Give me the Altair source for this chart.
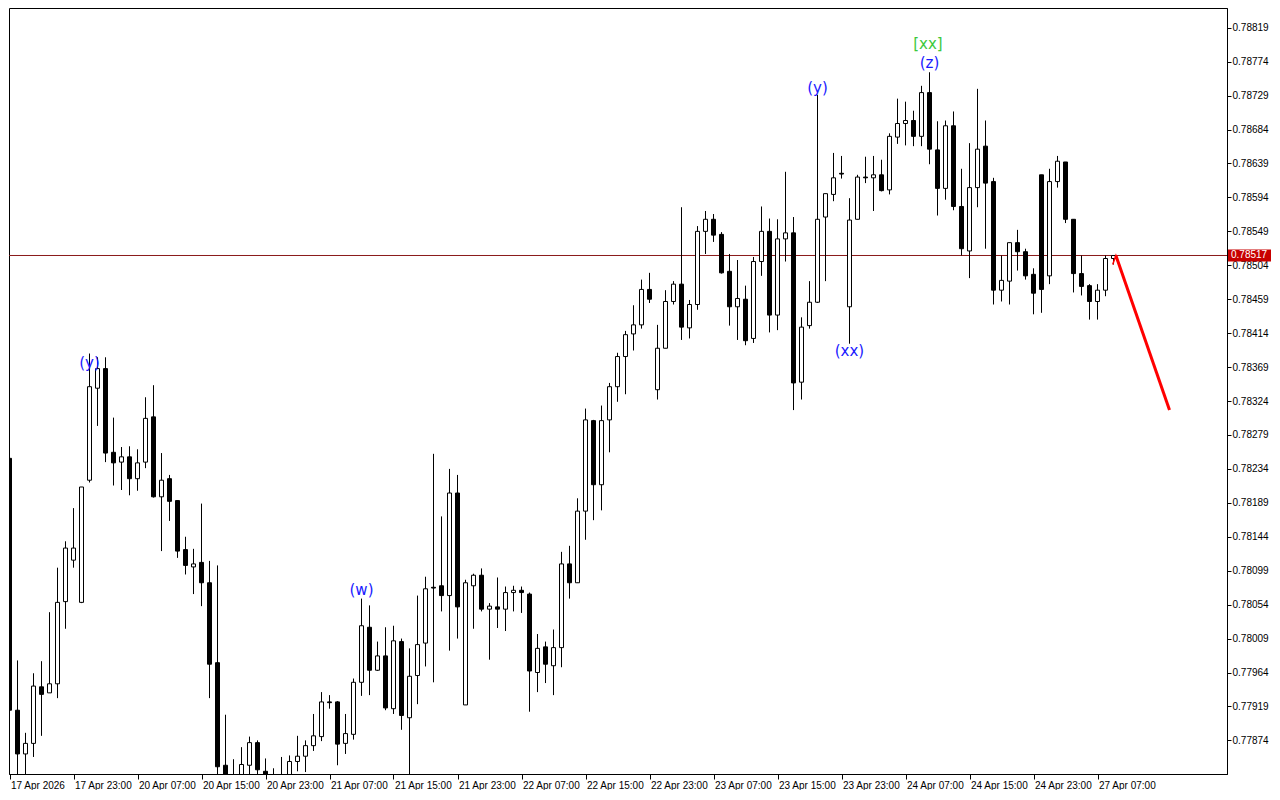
import altair as alt
import pandas as pd

# ---- hourly OHLC (17 Apr 15:00 .. 27 Apr 09:00) ----
opens = [0.78248,0.77914,0.77856,0.77870,0.77945,0.77937,0.77949,0.78058,0.78113,0.78057,
         0.78219,0.78341,0.78367,0.78256,0.78243,0.78250,0.78221,0.78243,0.78303,0.78197,
         0.78221,0.78192,0.78127,0.78104,0.78110,0.78083,0.77977,0.77841,0.77819,0.77814,
         0.77841,0.77871,0.77833,0.77819,0.77814,0.77816,0.77846,0.77853,0.77867,0.77879,
         0.77925,0.77925,0.77870,0.77882,0.77951,0.78024,0.77967,0.77986,0.77916,0.78005,
         0.77904,0.77960,0.78003,0.78077,0.78079,0.78066,0.78202,0.77921,0.78079,0.78093,
         0.78048,0.78051,0.78048,0.78070,0.78073,0.78068,0.77964,0.77998,0.77973,0.77997,
         0.78108,0.78083,0.78178,0.78298,0.78213,0.78299,0.78343,0.78383,0.78413,0.78425,
         0.78472,0.78339,0.78394,0.78456,0.78479,0.78421,0.78452,0.78549,0.78565,0.78545,
         0.78496,0.78449,0.78459,0.78407,0.78509,0.78549,0.78438,0.78539,0.78547,0.78349,
         0.78424,0.78455,0.78568,0.78598,0.78626,0.78449,0.78565,0.78621,0.78620,0.78624,
         0.78604,0.78674,0.78692,0.78696,0.78675,0.78733,0.78657,0.78606,0.78689,0.78582,
         0.78523,0.78607,0.78662,0.78615,0.78471,0.78483,0.78534,0.78522,0.78492,0.78624,
         0.78490,0.78615,0.78641,0.78565,0.78493,0.78477,0.78456,0.78471,0.78513]
highs = [0.78252,0.77980,0.77884,0.77963,0.77979,0.78044,0.78103,0.78138,0.78182,0.78210,
         0.78387,0.78382,0.78382,0.78302,0.78263,0.78264,0.78260,0.78329,0.78345,0.78255,
         0.78226,0.78192,0.78144,0.78128,0.78188,0.78112,0.78106,0.77908,0.77849,0.77865,
         0.77879,0.77874,0.77850,0.77837,0.77852,0.77854,0.77880,0.77874,0.77909,0.77938,
         0.77934,0.77926,0.77909,0.77956,0.78062,0.78053,0.78005,0.78024,0.78026,0.78009,
         0.77996,0.78066,0.78091,0.78254,0.78171,0.78234,0.78226,0.78087,0.78095,0.78102,
         0.78056,0.78090,0.78078,0.78079,0.78078,0.78070,0.78015,0.78005,0.78021,0.78124,
         0.78132,0.78195,0.78314,0.78299,0.78318,0.78348,0.78388,0.78417,0.78451,0.78485,
         0.78494,0.78425,0.78471,0.78483,0.78581,0.78458,0.78556,0.78576,0.78572,0.78548,
         0.78519,0.78511,0.78477,0.78515,0.78582,0.78566,0.78565,0.78628,0.78568,0.78435,
         0.78483,0.78730,0.78599,0.78653,0.78649,0.78593,0.78624,0.78648,0.78649,0.78644,
         0.78679,0.78725,0.78721,0.78709,0.78742,0.78760,0.78695,0.78696,0.78708,0.78632,
         0.78666,0.78738,0.78696,0.78620,0.78517,0.78534,0.78551,0.78526,0.78500,0.78624,
         0.78632,0.78649,0.78641,0.78565,0.78517,0.78479,0.78479,0.78517,0.78517]
lows = [0.77911,0.77814,0.77814,0.77852,0.77880,0.77937,0.77930,0.78022,0.78103,0.78056,
        0.78216,0.78291,0.78243,0.78212,0.78206,0.78199,0.78205,0.78235,0.78196,0.78125,
        0.78165,0.78116,0.78094,0.78068,0.78052,0.77930,0.77814,0.77807,0.77801,0.77807,
        0.77824,0.77820,0.77807,0.77801,0.77801,0.77811,0.77833,0.77832,0.77860,0.77873,
        0.77916,0.77841,0.77856,0.77875,0.77933,0.77934,0.77966,0.77914,0.77909,0.77888,
        0.77827,0.77922,0.77972,0.77951,0.78045,0.77993,0.78009,0.77921,0.78022,0.78045,
        0.77981,0.78023,0.78019,0.78045,0.78043,0.77912,0.77938,0.77950,0.77934,0.77971,
        0.78062,0.78083,0.78140,0.78166,0.78179,0.78256,0.78323,0.78333,0.78391,0.78420,
        0.78454,0.78326,0.78394,0.78452,0.78405,0.78407,0.78445,0.78519,0.78535,0.78493,
        0.78424,0.78405,0.78398,0.78401,0.78490,0.78415,0.78418,0.78509,0.78312,0.78326,
        0.78420,0.78454,0.78483,0.78589,0.78619,0.78400,0.78565,0.78613,0.78576,0.78602,
        0.78598,0.78665,0.78663,0.78662,0.78662,0.78638,0.78570,0.78591,0.78577,0.78517,
        0.78487,0.78581,0.78526,0.78452,0.78456,0.78452,0.78497,0.78485,0.78439,0.78441,
        0.78479,0.78607,0.78560,0.78468,0.78464,0.78432,0.78432,0.78463,0.78505]
closes = [0.77914,0.77856,0.77870,0.77946,0.77935,0.77949,0.78057,0.78129,0.78129,0.78210,
          0.78343,0.78367,0.78255,0.78242,0.78250,0.78221,0.78242,0.78301,0.78197,0.78219,
          0.78191,0.78125,0.78106,0.78108,0.78083,0.77975,0.77839,0.77820,0.77811,0.77842,
          0.77871,0.77835,0.77819,0.77814,0.77816,0.77846,0.77853,0.77867,0.77880,0.77925,
          0.77924,0.77869,0.77883,0.77951,0.78026,0.77967,0.77986,0.77917,0.78006,0.77907,
          0.77959,0.78001,0.78075,0.78076,0.78066,0.78202,0.78051,0.78083,0.78093,0.78048,
          0.78052,0.78048,0.78070,0.78073,0.78070,0.77966,0.77996,0.77975,0.77997,0.78108,
          0.78083,0.78178,0.78299,0.78213,0.78298,0.78343,0.78383,0.78412,0.78425,0.78472,
          0.78459,0.78394,0.78456,0.78479,0.78422,0.78452,0.78549,0.78565,0.78544,0.78494,
          0.78449,0.78460,0.78404,0.78509,0.78549,0.78438,0.78539,0.78547,0.78348,0.78422,
          0.78455,0.78565,0.78599,0.78620,0.78625,0.78564,0.78621,0.78620,0.78624,0.78603,
          0.78675,0.78692,0.78696,0.78675,0.78733,0.78658,0.78606,0.78689,0.78582,0.78526,
          0.78607,0.78658,0.78613,0.78471,0.78484,0.78534,0.78522,0.78490,0.78467,0.78472,
          0.78615,0.78642,0.78565,0.78493,0.78476,0.78456,0.78471,0.78513,0.78517]

time_labels = ["17 Apr 2026", "17 Apr 23:00", "20 Apr 07:00", "20 Apr 15:00", "20 Apr 23:00",
               "21 Apr 07:00", "21 Apr 15:00", "21 Apr 23:00", "22 Apr 07:00", "22 Apr 15:00",
               "22 Apr 23:00", "23 Apr 07:00", "23 Apr 15:00", "23 Apr 23:00", "24 Apr 07:00",
               "24 Apr 15:00", "24 Apr 23:00", "27 Apr 07:00"]
label_bars = [0, 8, 16, 24, 32, 40, 48, 56, 64, 72, 80, 88, 96, 104, 112, 120, 128, 136]

price_ticks = [0.78819, 0.78774, 0.78729, 0.78684, 0.78639, 0.78594, 0.78549, 0.78504,
               0.78459, 0.78414, 0.78369, 0.78324, 0.78279, 0.78234, 0.78189, 0.78144,
               0.78099, 0.78054, 0.78009, 0.77964, 0.77919, 0.77874]

current_price = 0.78517

wave_texts = ["(y)", "(w)", "(y)", "(xx)", "[xx]", "(z)"]
wave_bars = [10, 44, 101, 105, 114.8, 115]
wave_prices = [0.78375, 0.78074, 0.78739, 0.78390, 0.78798, 0.78772]
wave_colors = ["#1a1aff", "#1a1aff", "#1a1aff", "#1a1aff", "#3cc83c", "#1a1aff"]

arrow_bars = [138.3, 145.0]
arrow_prices = [0.78517, 0.78312]
arrow_head_bars = [137.9, 138.3, 138.6]
arrow_head_prices = [0.78505, 0.78517, 0.78507]

# ---- layout ----
W, H = 1218, 766
x_dom = [-0.0625, -0.0625 + W / 8]
y_dom = [0.778294, 0.788452]

df = pd.DataFrame({"i": list(range(len(opens))), "open": opens, "high": highs,
                   "low": lows, "close": closes})

label_expr = "[" + ",".join("'" + s + "'" for s in time_labels) + "][round(datum.value/8)]"

x_enc = alt.X("i:Q", scale=alt.Scale(domain=x_dom, nice=False, zero=False, padding=0),
              axis=alt.Axis(values=label_bars, labelExpr=label_expr, title=None,
                            tickSize=5, labelAlign="left", labelPadding=1, labelOffset=1,
                            labelFlush=False, labelOverlap=False, labelBound=False,
                            labelBaseline="top"))
y_scale = alt.Scale(domain=y_dom, nice=False, zero=False, padding=0)
y_axis = alt.Axis(values=price_ticks, format=".5f", title=None, orient="right",
                  tickSize=4, labelPadding=1, labelAlign="left", labelBaseline="middle",
                  labelOverlap=False, labelFlush=False)

wicks = alt.Chart(df).mark_rule(color="black", strokeWidth=1, clip=True).encode(
    x=x_enc,
    y=alt.Y("low:Q", scale=y_scale, axis=y_axis),
    y2="high:Q",
)

bodies = alt.Chart(df).mark_bar(size=4, stroke="black", strokeWidth=1, clip=True).encode(
    x=x_enc,
    y=alt.Y("open:Q", scale=y_scale, axis=y_axis),
    y2="close:Q",
    fill=alt.condition("datum.close >= datum.open", alt.value("white"), alt.value("black")),
)

price_df = pd.DataFrame({"price": [current_price], "lo": [current_price - 0.00008],
                         "hi": [current_price + 0.00008], "txt": [f"{current_price:.5f}"]})

price_line = alt.Chart(price_df).mark_rule(color="#8a1a1a", strokeWidth=1).encode(
    y=alt.Y("price:Q", scale=y_scale, axis=y_axis)
)

price_box = alt.Chart(price_df).mark_rect(color="#c80000").encode(
    x=alt.value(W + 1), x2=alt.value(W + 44),
    y=alt.Y("lo:Q", scale=y_scale, axis=y_axis), y2="hi:Q",
)
price_txt = alt.Chart(price_df).mark_text(align="left", baseline="middle", color="white",
                                          font="Liberation Sans", fontSize=10).encode(
    x=alt.value(W + 4),
    y=alt.Y("price:Q", scale=y_scale, axis=y_axis),
    text="txt:N",
)

arrow_df = pd.DataFrame({"i": arrow_bars, "p": arrow_prices})
arrow = alt.Chart(arrow_df).mark_line(color="#ff0000", strokeWidth=3, clip=True).encode(
    x=x_enc, y=alt.Y("p:Q", scale=y_scale, axis=y_axis)
)
head_df = pd.DataFrame({"i": arrow_head_bars, "p": arrow_head_prices})
arrow_head = alt.Chart(head_df).mark_line(color="#ff0000", strokeWidth=1.5, clip=True).encode(
    x=x_enc, y=alt.Y("p:Q", scale=y_scale, axis=y_axis)
)

wave_df = pd.DataFrame({"i": wave_bars, "p": wave_prices, "t": wave_texts, "c": wave_colors})
waves = alt.Chart(wave_df).mark_text(font="DejaVu Sans", fontSize=15, baseline="middle",
                                     align="center").encode(
    x=x_enc, y=alt.Y("p:Q", scale=y_scale, axis=y_axis), text="t:N",
    color=alt.Color("c:N", scale=None),
)

chart = alt.layer(price_line, wicks, bodies, arrow, arrow_head, waves, price_box,
                  price_txt).properties(
    width=W, height=H, padding={"left": 0, "top": 0, "right": 0, "bottom": 0},
    background="white",
).configure_view(stroke="black", strokeWidth=1).configure_axis(
    grid=False, domainColor="black", tickColor="black", labelColor="black",
    labelFont="Liberation Sans", labelFontSize=10, domainWidth=1, tickWidth=1,
)

chart.save("out.html", embed_options={"renderer": "svg", "actions": False})
